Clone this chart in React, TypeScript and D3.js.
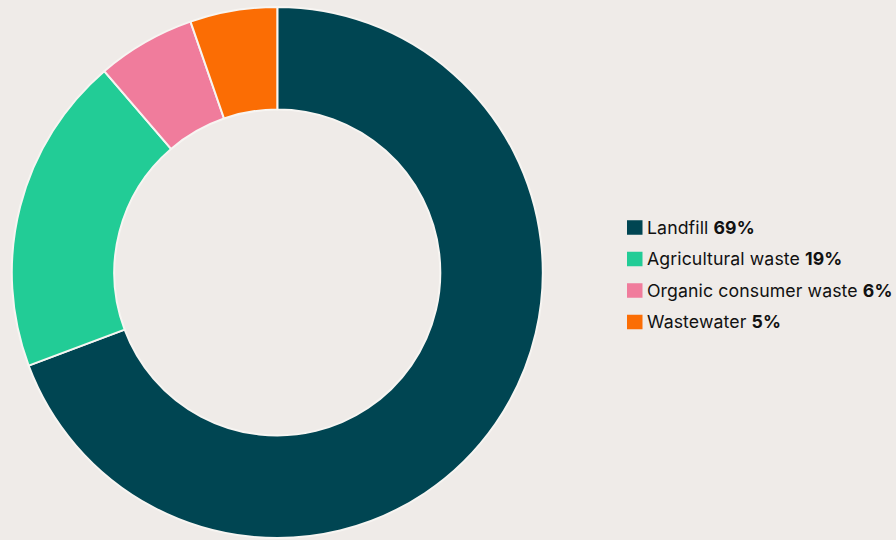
import React from "react";
import * as d3 from "d3";

const categories = ["Landfill", "Agricultural waste", "Organic consumer waste", "Wastewater"];
const values = [69.3, 19.4, 6.0, 5.3];
const labels = ["69%", "19%", "6%", "5%"];
const colors = ["#004552", "#22cc96", "#f07c9c", "#fb6d04"];

const W = 896;
const H = 540;
const cx = 277.3;
const cy = 272.5;
const outerR = 265.5;
const innerR = 163;

export default function App() {
  const data = categories.map((c, i) => ({ c, v: values[i], label: labels[i], color: colors[i] }));
  const pie = d3.pie<any>().value((d) => d.v).sort(null);
  const arc = d3.arc<any>().innerRadius(innerR).outerRadius(outerR);
  const arcs = pie(data);
  const legendY = d3.scaleBand<string>().domain(categories).range([211.5, 337.5]);
  return (
    <svg width={W} height={H} style={{ position: "absolute", left: 0, top: 0, background: "#efebe8" }}>
      <rect width={W} height={H} fill="#efebe8" />
      <g transform={`translate(${cx},${cy})`}>
        {arcs.map((a, i) => (
          <path key={i} d={arc(a) || ""} fill={a.data.color} stroke="#f7f5f2" strokeWidth={2} strokeLinejoin="round" />
        ))}
      </g>
      <g>
        {data.map((d, i) => {
          const y = (legendY(d.c) || 0) + legendY.bandwidth() / 2;
          return (
            <g key={i}>
              <rect x={627} y={y - 7} width={15.5} height={14.5} fill={d.color} />
              <text x={647} y={y} dy="0.36em" fontFamily="Inter, 'Noto Sans', sans-serif" fontSize={17.7} letterSpacing={0.1} fill="#111">
                {d.c} <tspan fontWeight={700}>{d.label}</tspan>
              </text>
            </g>
          );
        })}
      </g>
    </svg>
  );
}
